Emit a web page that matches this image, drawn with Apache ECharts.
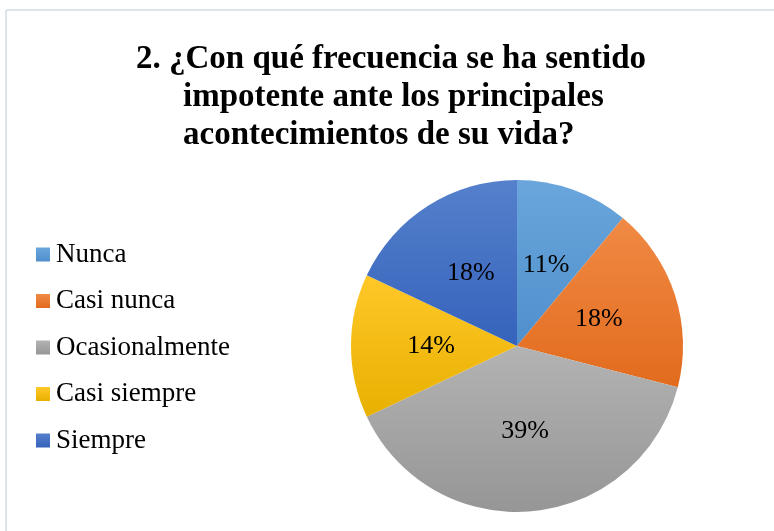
<!DOCTYPE html>
<html>
<head>
<meta charset="utf-8">
<script src="https://cdn.jsdelivr.net/npm/echarts@6/dist/echarts.min.js"></script>
<style>
  html, body { margin: 0; padding: 0; background: #fff; }
  #chart { width: 774px; height: 531px; }
</style>
</head>
<body>
<div id="chart"></div>
<script>
// datos de la encuesta (porcentajes)
const categories = ['Nunca', 'Casi nunca', 'Ocasionalmente', 'Casi siempre', 'Siempre'];
const values = [11, 18, 39, 14, 18];
const titleLines = [
  '2. ¿Con qué frecuencia se ha sentido',
  'impotente ante los principales',
  'acontecimientos de su vida?'
];

// colores estilo Office, con degradado vertical
const colorsTop = ['#6aa6dc', '#f08a45', '#b3b3b3', '#ffc828', '#5580cc'];
const colorsBottom = ['#4f8fcc', '#e26b1d', '#969696', '#e8b000', '#3563bb'];

const serif = '"Liberation Serif", "DejaVu Serif", serif';

function grad(i) {
  return new echarts.graphic.LinearGradient(0, 0, 0, 1, [
    { offset: 0, color: colorsTop[i] },
    { offset: 1, color: colorsBottom[i] }
  ]);
}

const chart = echarts.init(document.getElementById('chart'));

chart.setOption({
  backgroundColor: '#ffffff',
  animation: false,
  title: [
    { text: titleLines[0], left: 136, top: 43 },
    { text: titleLines[1], left: 183, top: 81 },
    { text: titleLines[2], left: 183, top: 119 }
  ].map(t => Object.assign(t, {
    padding: 0,
    textStyle: { fontFamily: serif, fontWeight: 'bold', fontSize: 33, color: '#000' }
  })),
  legend: {
    orient: 'vertical',
    left: 36,
    top: 241,
    padding: 0,
    itemWidth: 14,
    itemHeight: 14,
    itemGap: 19.5,
    icon: 'rect',
    textStyle: { fontFamily: serif, fontSize: 27, color: '#000', lineHeight: 27, padding: [0, 0, 0, 1] },
    data: categories
  },
  graphic: [
    { type: 'line', shape: { x1: 6, y1: 10, x2: 774, y2: 10 }, style: { stroke: '#dfe3ea', lineWidth: 2 } },
    { type: 'line', shape: { x1: 6, y1: 10, x2: 6, y2: 531 }, style: { stroke: '#dfe3ea', lineWidth: 2 } }
  ],
  series: [{
    type: 'pie',
    center: [517, 346],
    radius: 166,
    startAngle: 90,
    clockwise: true,
    label: {
      position: 'inside',
      formatter: '{c}%',
      fontFamily: serif,
      fontSize: 26,
      color: '#000'
    },
    labelLine: { show: false },
    emphasis: { disabled: true },
    itemStyle: { borderWidth: 0 },
    data: categories.map((name, i) => ({
      name: name,
      value: values[i],
      itemStyle: { color: grad(i) }
    }))
  }]
});
</script>
</body>
</html>
